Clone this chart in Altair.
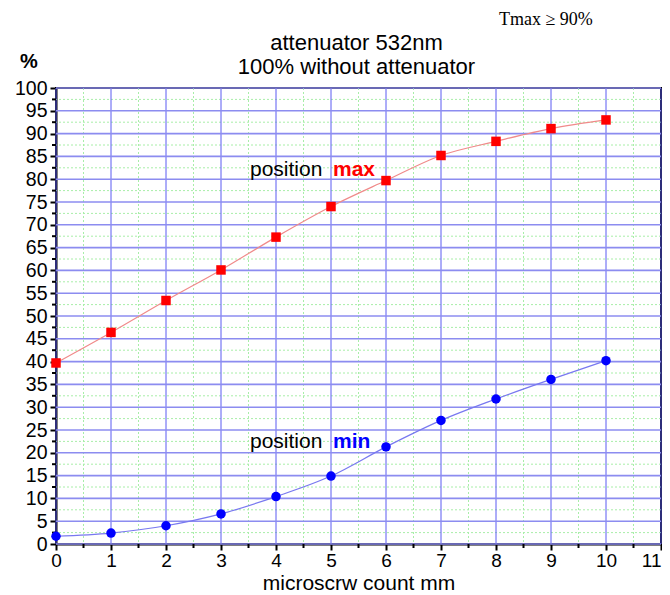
import altair as alt
import pandas as pd

# ---- data ----
x_mm = [0, 1, 2, 3, 4, 5, 6, 7, 8, 9, 10]
pos_max = [39.7, 46.4, 53.4, 60.1, 67.3, 74.0, 79.7, 85.2, 88.3, 91.1, 93.0]
pos_min = [1.7, 2.4, 4.0, 6.6, 10.4, 14.9, 21.3, 27.1, 31.8, 36.1, 40.2]

x_ticks = list(range(0, 12))
y_ticks = list(range(0, 101, 5))
x_minor = [v + 0.5 for v in x_ticks[:-1]]
y_minor = [v + 2.5 for v in y_ticks[:-1]]

title_lines = ["attenuator 532nm", "100% without attenuator"]
note_text = ["Tmax \u2265 90%"]
unit_text = ["%"]
x_title = "microscrw count mm"

W, H = 605, 456
FONT = "Liberation Sans"

xs = alt.Scale(domain=[0, 11], nice=False, zero=False)
ys = alt.Scale(domain=[0, 100], nice=False)

x_axis = alt.Axis(values=x_ticks, title=x_title, grid=False, format="d",
                  tickSize=6, tickWidth=2, tickColor="black",
                  domainColor="black", domainWidth=2,
                  labelFont=FONT, labelFontSize=19, labelColor="black",
                  labelPadding=1, labelFlush=False, labelOverlap=False,
                  labelAlign={"condition": {"test": "datum.value == 11", "value": "right"},
                              "value": "center"},
                  titleFont=FONT, titleFontSize=21, titleFontWeight="normal",
                  titleColor="black", titleBaseline="alphabetic", titleY=45)
y_axis = alt.Axis(values=y_ticks, title=None, grid=False, format="d",
                  tickSize=6, tickWidth=2, tickColor="black",
                  domainColor="black", domainWidth=2,
                  labelFont=FONT, labelFontSize=19.5, labelColor="black",
                  labelPadding=3, labelFlush=False, labelOverlap=False)

X = lambda f: alt.X(f, type="quantitative", scale=xs, axis=x_axis)
Y = lambda f: alt.Y(f, type="quantitative", scale=ys, axis=y_axis)

df_max = pd.DataFrame({"x": x_mm, "y": pos_max})
df_min = pd.DataFrame({"x": x_mm, "y": pos_min})
df_xminor = pd.DataFrame({"v": x_minor})
df_yminor = pd.DataFrame({"v": y_minor})
df_xmajor = pd.DataFrame({"v": x_ticks})
df_ymajor = pd.DataFrame({"v": y_ticks})

grid_minor_x = alt.Chart(df_xminor).mark_rule(color="#a8eea8", strokeWidth=1, strokeDash=[2, 2]).encode(x=X("v"))
grid_minor_y = alt.Chart(df_yminor).mark_rule(color="#a8eea8", strokeWidth=1, strokeDash=[2, 2]).encode(y=Y("v"))
grid_major_x = alt.Chart(df_xmajor).mark_rule(color="#5a5af2", strokeWidth=1).encode(x=X("v"))
grid_major_y = alt.Chart(df_ymajor).mark_rule(color="#8c8cf0", strokeWidth=1.6).encode(y=Y("v"))

minor_tick_y = alt.Chart(df_yminor).mark_rule(color="black", strokeWidth=2).encode(
    y=Y("v"), x=alt.value(-4), x2=alt.value(0))
minor_tick_x = alt.Chart(df_xminor).mark_rule(color="black", strokeWidth=2).encode(
    x=X("v"), y=alt.value(H), y2=alt.value(H + 4))

line_max = alt.Chart(df_max).mark_line(color="#f08a8a", strokeWidth=1.2, interpolate="monotone").encode(x=X("x"), y=Y("y"))
pts_max = alt.Chart(df_max).mark_point(shape="square", filled=True, color="#ff0000", size=90, opacity=1).encode(x=X("x"), y=Y("y"))
line_min = alt.Chart(df_min).mark_line(color="#7878f0", strokeWidth=1.2, interpolate="monotone").encode(x=X("x"), y=Y("y"))
pts_min = alt.Chart(df_min).mark_point(shape="circle", filled=True, color="#0000ff", size=90, opacity=1).encode(x=X("x"), y=Y("y"))


def label(txt, x, y, color="black", weight="normal", size=21, font=FONT, align="left"):
    return alt.Chart(pd.DataFrame({"t": [txt]})).mark_text(
        font=font, fontSize=size, fontWeight=weight, color=color,
        align=align, baseline="alphabetic").encode(
        text="t:N", x=alt.value(x), y=alt.value(y))


texts = [
    label("position", 194, 88),
    label("max", 277, 88, color="#ff0000", weight="bold"),
    label("position", 194, 360),
    label("min", 277, 360, color="#0000ff", weight="bold"),
    label(title_lines[0], W / 2 - 2, -38, size=22, align="center"),
    label(title_lines[1], W / 2 - 2, -14, size=22, align="center"),
    label(note_text[0], 443, -63, size=18, font="Liberation Serif"),
    label(unit_text[0], -36, -20, size=20, weight="bold"),
]

chart = alt.layer(
    grid_minor_x, grid_minor_y, grid_major_x, grid_major_y,
    minor_tick_x, minor_tick_y,
    line_max, line_min, pts_max, pts_min, *texts
).properties(
    width=W, height=H,
    autosize=alt.AutoSizeParams(type="none"),
    padding={"left": 48, "top": 80, "right": 1, "bottom": 50},
).configure_view(stroke="black", strokeWidth=2)

chart.save("out.html", embed_options={"renderer": "svg", "actions": False})
